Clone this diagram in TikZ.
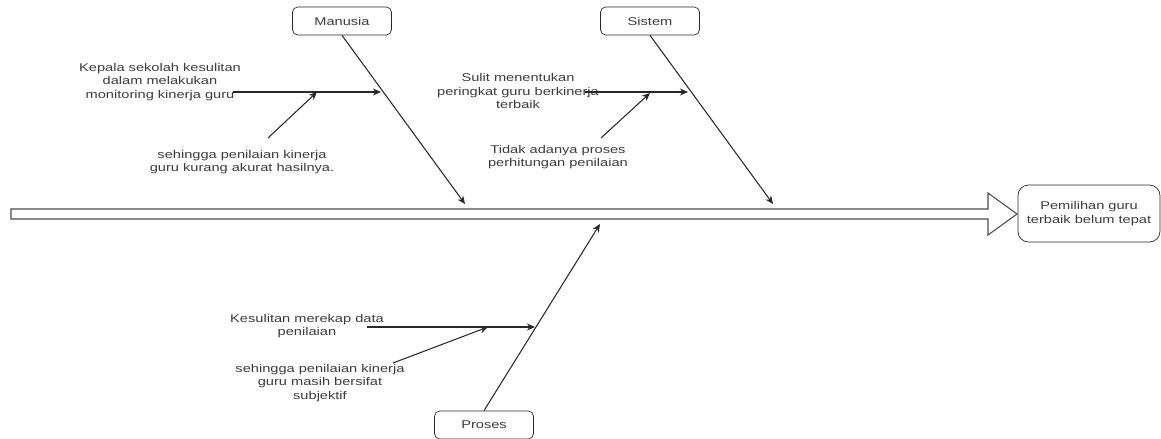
\documentclass[tikz,border=0pt]{standalone}
\usepackage{fontspec}
\setmainfont{Liberation Sans}[FakeStretch=1.3]
\usepackage{xcolor}
\usetikzlibrary{arrows.meta}
\definecolor{AbuTeks}{RGB}{60,60,60}
\definecolor{AbuGaris}{RGB}{40,40,40}
\newcommand{\hurufdiagram}{\fontsize{6.4}{7.7}\selectfont}

\begin{document}
\begin{tikzpicture}[x=0.02cm,y=-0.02cm,>={Stealth[length=4.6pt,width=4pt]},
  kategori/.style={draw=AbuGaris,rounded corners=3pt,minimum width=1.98cm,
                   minimum height=0.56cm,text=AbuTeks,font=\hurufdiagram},
  akibat/.style={draw=AbuGaris,rounded corners=6pt,minimum width=2.84cm,
                 minimum height=1.14cm,align=center,text=AbuTeks,font=\hurufdiagram},
  sebab/.style={align=center,inner sep=0pt,text=AbuTeks,font=\hurufdiagram},
  tulang/.style={->,line width=0.6pt,AbuGaris}]
  \useasboundingbox (0,0) rectangle (1161,439);

  % tulang utama
  \draw[line width=0.6pt,black!70,fill=white] (11,209) -- (988,209) -- (988,193)
       -- (1017,214) -- (988,235) -- (988,219) -- (11,219) -- cycle;
  \node[akibat] (hasil) at (1089,213.5) {Pemilihan guru\\terbaik belum tepat};

  % kategori
  \node[kategori] (manusia) at (342,21) {Manusia};
  \node[kategori] (sistem)  at (650,21) {Sistem};
  \node[kategori] (proses)  at (484,425) {Proses};

  \coordinate (ujungM) at (465,204);
  \coordinate (ujungS) at (773,204);
  \coordinate (ujungP) at (600,224);
  \draw[tulang] (manusia.south) -- (ujungM);
  \draw[tulang] (sistem.south) -- (ujungS);
  \draw[tulang] (proses.north) -- (ujungP);

  % sebab manusia
  \node[sebab] (m1) at (160,82)
       {Kepala sekolah kesulitan\\dalam melakukan\\monitoring kinerja guru};
  \node[sebab] (m2) at (242,162)
       {sehingga penilaian kinerja\\guru kurang akurat hasilnya.};
  \coordinate (m1a) at (233,92);
  \coordinate (m1b) at (381,92);
  \coordinate (m2a) at (268,138);
  \coordinate (m2b) at (317,92);
  \draw[tulang] (m1a) -- (m1b);
  \draw[tulang] (m2a) -- (m2b);

  % sebab sistem
  \node[sebab] (s1) at (518,91)
       {Sulit menentukan\\peringkat guru berkinerja\\terbaik};
  \node[sebab] (s2) at (558,157)
       {Tidak adanya proses\\perhitungan penilaian};
  \coordinate (s1a) at (585,92);
  \coordinate (s1b) at (688,92);
  \coordinate (s2a) at (601,138);
  \coordinate (s2b) at (650,93);
  \draw[tulang] (s1a) -- (s1b);
  \draw[tulang] (s2a) -- (s2b);

  % sebab proses
  \node[sebab] (p1) at (307,326)
       {Kesulitan merekap data\\penilaian};
  \node[sebab] (p2) at (320,383)
       {sehingga penilaian kinerja\\guru masih bersifat\\subjektif};
  \coordinate (p1a) at (367,327);
  \coordinate (p1b) at (535,327);
  \coordinate (p2a) at (393,363);
  \coordinate (p2b) at (488,327);
  \draw[tulang] (p1a) -- (p1b);
  \draw[tulang] (p2a) -- (p2b);
\end{tikzpicture}
\end{document}
